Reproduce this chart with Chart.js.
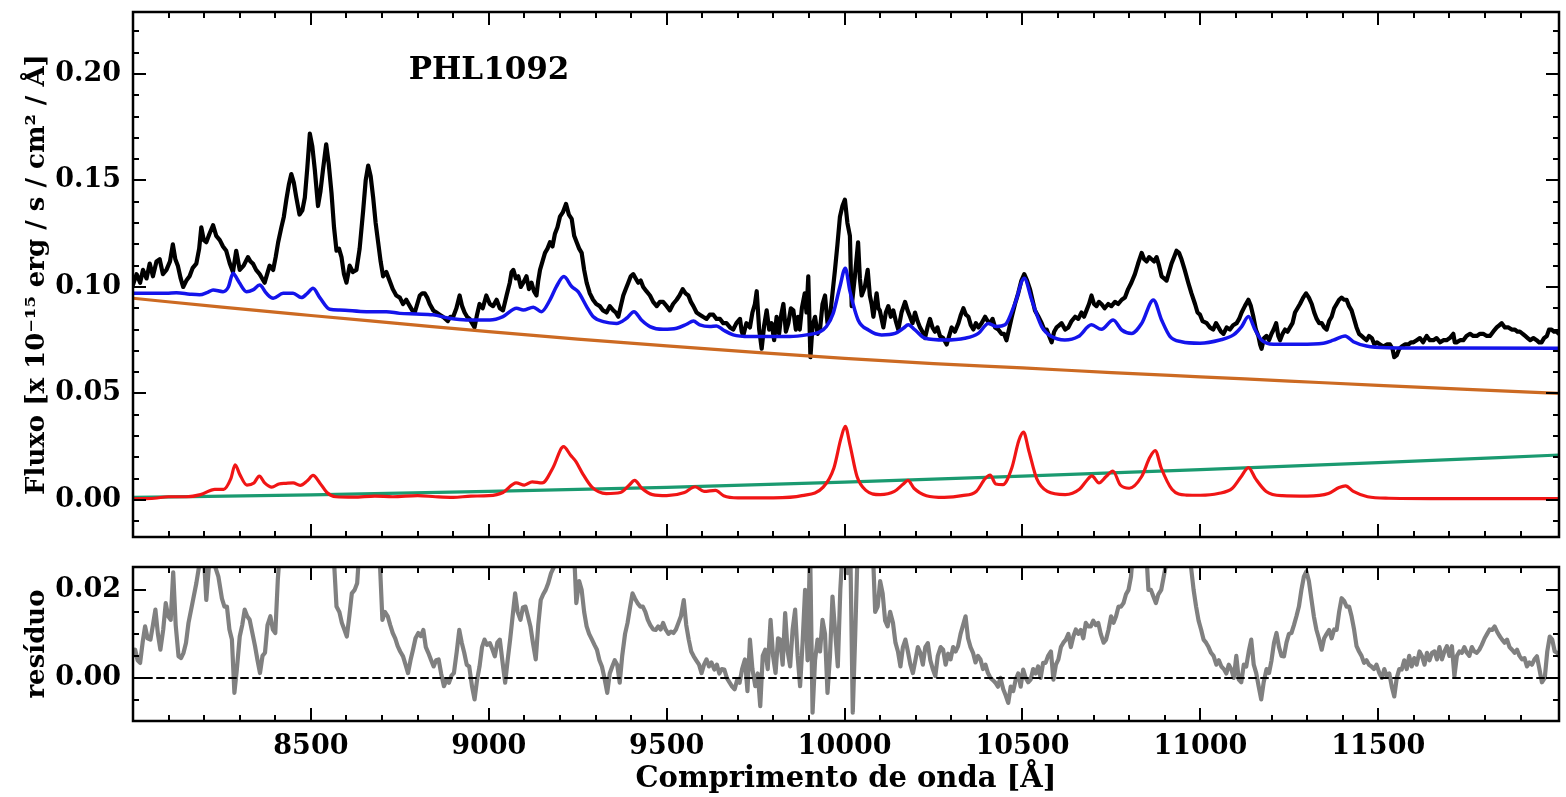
<!DOCTYPE html>
<html>
<head>
<meta charset="utf-8">
<script src="https://cdn.jsdelivr.net/npm/chart.js"></script>
<style>
  html, body { margin: 0; padding: 0; background: #fff; }
  #wrap { position: relative; width: 1566px; height: 797px; }
  canvas { position: absolute; left: 0; top: 0; }
</style>
</head>
<body>
<div id="wrap">
  <canvas id="fluxChart" width="1566" height="797"></canvas>
  <canvas id="residChart" width="1566" height="797"></canvas>
</div>
<script>
const FONT = 'DejaVu Serif';

// observed spectrum [wavelength (A), flux]
const observed = [
  [8000,0.101],[8010,0.106],[8020,0.102],[8028,0.108],[8038,0.104],[8047,0.111],[8056,0.105],[8066,0.112],[8075,0.113],[8084,0.106],
  [8094,0.108],[8104,0.112],[8112,0.120],[8119,0.113],[8126,0.110],[8134,0.104],[8141,0.100],[8150,0.103],[8159,0.105],[8168,0.109],
  [8178,0.111],[8186,0.118],[8192,0.128],[8199,0.122],[8206,0.121],[8215,0.125],[8225,0.129],[8234,0.124],[8244,0.122],[8253,0.119],
  [8262,0.117],[8272,0.111],[8281,0.107],[8290,0.117],[8300,0.108],[8311,0.110],[8323,0.114],[8330,0.112],[8337,0.111],[8346,0.108],
  [8356,0.106],[8363,0.104],[8370,0.102],[8377,0.106],[8384,0.110],[8394,0.108],[8401,0.114],[8408,0.121],[8417,0.128],[8424,0.133],
  [8431,0.141],[8438,0.148],[8445,0.153],[8452,0.149],[8459,0.142],[8468,0.134],[8476,0.136],[8483,0.142],[8490,0.156],[8497,0.172],
  [8504,0.166],[8511,0.155],[8520,0.138],[8527,0.145],[8534,0.155],[8543,0.167],[8550,0.158],[8558,0.144],[8565,0.128],[8572,0.117],
  [8579,0.118],[8586,0.114],[8593,0.106],[8600,0.102],[8609,0.110],[8618,0.107],[8628,0.108],[8637,0.118],[8647,0.136],[8654,0.150],
  [8661,0.157],[8668,0.152],[8675,0.142],[8682,0.130],[8689,0.121],[8696,0.112],[8703,0.105],[8712,0.107],[8721,0.103],[8730,0.099],
  [8740,0.096],[8750,0.095],[8759,0.092],[8768,0.094],[8778,0.091],[8785,0.089],[8792,0.088],[8799,0.092],[8806,0.096],[8813,0.097],
  [8820,0.097],[8827,0.095],[8834,0.092],[8844,0.089],[8853,0.088],[8862,0.087],[8871,0.086],[8878,0.085],[8885,0.084],[8892,0.086],
  [8900,0.086],[8909,0.090],[8918,0.096],[8925,0.091],[8932,0.088],[8939,0.086],[8946,0.085],[8953,0.083],[8960,0.081],[8967,0.087],
  [8974,0.092],[8983,0.090],[8993,0.096],[9003,0.092],[9012,0.091],[9022,0.094],[9031,0.090],[9040,0.089],[9050,0.096],[9059,0.102],
  [9064,0.107],[9069,0.108],[9076,0.104],[9083,0.105],[9090,0.100],[9097,0.102],[9106,0.105],[9113,0.099],[9120,0.102],[9127,0.098],
  [9134,0.096],[9139,0.103],[9144,0.108],[9151,0.112],[9158,0.116],[9165,0.118],[9172,0.121],[9179,0.119],[9186,0.125],[9193,0.128],
  [9200,0.133],[9208,0.135],[9217,0.139],[9225,0.134],[9233,0.132],[9240,0.124],[9247,0.121],[9254,0.118],[9261,0.116],[9268,0.108],
  [9275,0.102],[9284,0.097],[9293,0.094],[9302,0.092],[9312,0.091],[9321,0.089],[9331,0.088],[9340,0.091],[9350,0.089],[9357,0.088],
  [9364,0.086],[9371,0.091],[9378,0.096],[9385,0.099],[9392,0.102],[9399,0.105],[9406,0.106],[9413,0.104],[9420,0.102],[9427,0.103],
  [9434,0.100],[9443,0.098],[9453,0.096],[9462,0.093],[9472,0.091],[9481,0.093],[9490,0.093],[9500,0.091],[9509,0.089],[9518,0.092],
  [9528,0.094],[9536,0.096],[9545,0.099],[9553,0.097],[9561,0.096],[9568,0.093],[9575,0.091],[9584,0.088],[9593,0.087],[9602,0.086],
  [9612,0.085],[9621,0.087],[9631,0.087],[9640,0.085],[9650,0.085],[9659,0.083],[9668,0.083],[9678,0.081],[9687,0.080],[9696,0.083],
  [9706,0.085],[9711,0.079],[9715,0.077],[9724,0.083],[9734,0.081],[9741,0.088],[9748,0.092],[9753,0.098],[9760,0.080],[9767,0.071],
  [9774,0.082],[9781,0.089],[9788,0.080],[9795,0.083],[9802,0.075],[9809,0.086],[9816,0.078],[9822,0.087],[9828,0.092],[9835,0.079],
  [9842,0.083],[9849,0.090],[9856,0.089],[9863,0.080],[9869,0.086],[9874,0.080],[9880,0.090],[9888,0.097],[9893,0.088],[9898,0.105],
  [9904,0.067],[9910,0.082],[9917,0.086],[9924,0.078],[9931,0.080],[9938,0.092],[9945,0.096],[9952,0.083],[9959,0.086],[9966,0.097],
  [9973,0.108],[9980,0.120],[9987,0.133],[9994,0.138],[10001,0.141],[10008,0.130],[10015,0.124],[10020,0.091],[10029,0.105],[10038,0.121],
  [10043,0.104],[10048,0.096],[10057,0.100],[10065,0.108],[10071,0.096],[10076,0.092],[10081,0.086],[10090,0.097],[10095,0.090],[10099,0.089],
  [10104,0.085],[10109,0.081],[10116,0.088],[10123,0.091],[10130,0.086],[10137,0.089],[10144,0.084],[10151,0.080],[10160,0.088],[10170,0.093],
  [10177,0.089],[10184,0.086],[10191,0.083],[10198,0.088],[10205,0.084],[10212,0.081],[10219,0.079],[10226,0.076],[10233,0.081],[10240,0.085],
  [10247,0.081],[10254,0.079],[10261,0.081],[10268,0.077],[10277,0.076],[10287,0.073],[10294,0.077],[10301,0.081],[10310,0.079],[10320,0.083],
  [10327,0.087],[10334,0.090],[10341,0.087],[10348,0.086],[10355,0.082],[10362,0.080],[10369,0.083],[10376,0.081],[10385,0.083],[10395,0.086],
  [10402,0.084],[10409,0.083],[10416,0.085],[10423,0.081],[10432,0.080],[10441,0.078],[10448,0.078],[10455,0.075],[10462,0.080],[10470,0.086],
  [10479,0.092],[10488,0.097],[10497,0.103],[10505,0.106],[10513,0.103],[10521,0.099],[10528,0.094],[10535,0.089],[10545,0.086],[10554,0.083],
  [10561,0.080],[10568,0.080],[10575,0.077],[10582,0.074],[10589,0.079],[10596,0.081],[10603,0.082],[10610,0.083],[10620,0.080],[10629,0.081],
  [10638,0.084],[10648,0.086],[10657,0.085],[10666,0.088],[10673,0.086],[10680,0.089],[10687,0.092],[10694,0.096],[10701,0.092],[10708,0.091],
  [10715,0.093],[10722,0.092],[10731,0.090],[10741,0.092],[10750,0.091],[10760,0.093],[10769,0.092],[10779,0.094],[10788,0.095],[10797,0.099],
  [10806,0.102],[10816,0.106],[10825,0.111],[10835,0.116],[10842,0.113],[10849,0.112],[10856,0.114],[10863,0.113],[10870,0.112],[10877,0.114],
  [10884,0.110],[10891,0.105],[10898,0.104],[10905,0.103],[10912,0.107],[10919,0.111],[10926,0.114],[10933,0.117],[10940,0.116],[10947,0.113],
  [10956,0.108],[10966,0.102],[10975,0.097],[10985,0.092],[10992,0.088],[10999,0.087],[11006,0.084],[11018,0.083],[11027,0.081],[11036,0.080],
  [11044,0.083],[11051,0.081],[11058,0.079],[11065,0.078],[11074,0.081],[11083,0.080],[11092,0.082],[11102,0.083],[11109,0.085],[11116,0.088],
  [11125,0.091],[11135,0.094],[11142,0.091],[11149,0.086],[11156,0.080],[11163,0.077],[11168,0.073],[11172,0.071],[11179,0.076],[11186,0.077],
  [11193,0.075],[11200,0.078],[11206,0.080],[11213,0.083],[11219,0.077],[11224,0.075],[11231,0.078],[11238,0.080],[11245,0.079],[11252,0.081],
  [11259,0.083],[11266,0.088],[11273,0.090],[11280,0.092],[11289,0.095],[11297,0.097],[11305,0.095],[11313,0.092],[11320,0.088],[11327,0.085],
  [11334,0.083],[11341,0.083],[11348,0.081],[11355,0.080],[11362,0.084],[11369,0.086],[11376,0.090],[11383,0.092],[11390,0.094],[11397,0.095],
  [11404,0.094],[11411,0.094],[11418,0.091],[11425,0.089],[11432,0.085],[11439,0.081],[11446,0.078],[11453,0.077],[11460,0.076],[11467,0.075],
  [11474,0.077],[11482,0.076],[11489,0.073],[11496,0.074],[11505,0.073],[11514,0.072],[11524,0.073],[11533,0.073],[11540,0.071],[11545,0.067],
  [11552,0.068],[11559,0.071],[11566,0.072],[11575,0.073],[11585,0.073],[11592,0.074],[11599,0.074],[11608,0.075],[11617,0.076],[11626,0.074],
  [11636,0.077],[11645,0.075],[11655,0.075],[11664,0.076],[11674,0.074],[11683,0.075],[11692,0.075],[11701,0.076],[11711,0.078],[11715,0.074],
  [11720,0.074],[11730,0.075],[11739,0.075],[11748,0.077],[11758,0.078],[11767,0.077],[11777,0.077],[11786,0.078],[11795,0.078],[11805,0.077],
  [11814,0.077],[11823,0.079],[11833,0.081],[11840,0.082],[11847,0.083],[11856,0.081],[11866,0.081],[11875,0.080],[11884,0.080],[11891,0.079],
  [11898,0.079],[11906,0.078],[11913,0.077],[11920,0.076],[11927,0.075],[11936,0.076],[11945,0.075],[11952,0.074],[11959,0.074],[11966,0.076],
  [11974,0.077],[11980,0.080],[11987,0.080],[11994,0.079],[12001,0.079],[12008,0.078]
];

// total model (blue)
const model = [
  [8000,0.0970],[8094,0.0970],[8122,0.0973],[8160,0.0966],[8187,0.0963],[8210,0.0975],[8225,0.0986],[8253,0.0978],[8268,0.1000],[8281,0.1064],
  [8292,0.1040],[8300,0.1017],[8319,0.0978],[8337,0.0986],[8356,0.1009],[8375,0.0970],[8394,0.0947],[8422,0.0970],[8450,0.0970],[8473,0.0950],
  [8490,0.0970],[8506,0.0994],[8525,0.0950],[8553,0.0895],[8581,0.0892],[8656,0.0884],[8712,0.0884],[8750,0.0876],[8796,0.0873],[8843,0.0869],
  [8890,0.0853],[8937,0.0845],[9003,0.0845],[9040,0.0861],[9078,0.0900],[9097,0.0892],[9125,0.0905],[9148,0.0884],[9172,0.0939],[9190,0.1002],
  [9211,0.1049],[9233,0.1002],[9251,0.0978],[9275,0.0908],[9293,0.0861],[9322,0.0837],[9359,0.0829],[9387,0.0853],[9408,0.0884],[9429,0.0845],
  [9453,0.0814],[9490,0.0801],[9528,0.0806],[9556,0.0825],[9575,0.0840],[9593,0.0822],[9621,0.0814],[9640,0.0817],[9659,0.0798],[9687,0.0775],
  [9734,0.0767],[9800,0.0767],[9846,0.0767],[9893,0.0775],[9931,0.0790],[9949,0.0814],[9968,0.0876],[9987,0.1002],[10002,0.1088],[10015,0.0980],
  [10038,0.0845],[10067,0.0798],[10104,0.0775],[10142,0.0782],[10165,0.0806],[10179,0.0822],[10198,0.0798],[10226,0.0759],[10282,0.0751],[10338,0.0759],
  [10376,0.0782],[10404,0.0829],[10427,0.0814],[10451,0.0822],[10479,0.0923],[10505,0.1041],[10526,0.0939],[10554,0.0814],[10582,0.0767],[10619,0.0751],
  [10657,0.0767],[10694,0.0822],[10722,0.0801],[10755,0.0845],[10779,0.0798],[10807,0.0782],[10835,0.0829],[10868,0.0939],[10891,0.0845],[10915,0.0767],
  [10947,0.0743],[10999,0.0736],[11055,0.0751],[11093,0.0775],[11116,0.0814],[11135,0.0861],[11154,0.0798],[11172,0.0751],[11205,0.0731],[11280,0.0731],
  [11346,0.0736],[11374,0.0750],[11407,0.0770],[11430,0.0743],[11467,0.0723],[11524,0.0715],[11700,0.0713],[12010,0.0712]
];

// emission lines component (red)
const lines = [
  [8000,0.0005],[8060,0.0008],[8100,0.0015],[8150,0.0015],[8190,0.0025],[8230,0.0050],[8255,0.0050],[8275,0.0100],[8287,0.0165],[8300,0.0120],
  [8320,0.0070],[8340,0.0080],[8355,0.0112],[8370,0.0080],[8390,0.0060],[8410,0.0075],[8430,0.0078],[8450,0.0080],[8470,0.0068],[8490,0.0090],
  [8506,0.0115],[8525,0.0080],[8545,0.0035],[8570,0.0015],[8620,0.0013],[8680,0.0018],[8730,0.0015],[8800,0.0020],[8850,0.0015],[8900,0.0012],
  [8950,0.0018],[9000,0.0020],[9040,0.0035],[9077,0.0080],[9100,0.0070],[9122,0.0085],[9150,0.0080],[9180,0.0150],[9210,0.0250],[9230,0.0210],
  [9245,0.0180],[9265,0.0120],[9290,0.0060],[9330,0.0030],[9370,0.0035],[9395,0.0070],[9410,0.0092],[9430,0.0055],[9460,0.0025],[9500,0.0020],
  [9550,0.0035],[9580,0.0062],[9605,0.0040],[9637,0.0045],[9660,0.0020],[9700,0.0010],[9800,0.0010],[9880,0.0020],[9940,0.0060],[9970,0.0150],
  [9990,0.0290],[10002,0.0345],[10015,0.0260],[10035,0.0110],[10060,0.0045],[10100,0.0025],[10140,0.0040],[10165,0.0075],[10178,0.0092],[10195,0.0055],
  [10230,0.0020],[10280,0.0012],[10330,0.0020],[10370,0.0040],[10395,0.0100],[10409,0.0117],[10425,0.0075],[10445,0.0072],[10470,0.0150],[10490,0.0280],
  [10503,0.0318],[10518,0.0230],[10540,0.0100],[10570,0.0040],[10620,0.0025],[10660,0.0050],[10680,0.0090],[10695,0.0113],[10715,0.0080],[10735,0.0110],
  [10754,0.0136],[10775,0.0070],[10800,0.0055],[10835,0.0110],[10858,0.0200],[10873,0.0232],[10890,0.0150],[10920,0.0050],[10960,0.0023],[11000,0.0022],
  [11050,0.0030],[11090,0.0055],[11115,0.0110],[11135,0.0152],[11155,0.0100],[11185,0.0040],[11230,0.0020],[11300,0.0018],[11360,0.0030],[11390,0.0058],
  [11408,0.0066],[11430,0.0040],[11470,0.0015],[11530,0.0008],[11700,0.0006],[12008,0.0006]
];

// power-law continuum (orange) and second continuum (green)
const contWave = [8000, 8250, 8500, 8750, 9000, 9250, 9500, 9750, 10000, 10250, 10500, 10750, 11000, 11250, 11500, 11750, 12008];
const powerLaw = [0.0947, 0.0905, 0.0866, 0.0828, 0.0790, 0.0755, 0.0723, 0.0693, 0.0665, 0.0640, 0.0620, 0.0598, 0.0578, 0.0558, 0.0538, 0.0519, 0.0500];
const dustWave = [8000, 8500, 9000, 9500, 10000, 10500, 11000, 11500, 12008];
const dustCont = [0.0012, 0.0024, 0.0040, 0.0059, 0.0084, 0.0112, 0.0142, 0.0175, 0.0211];

// residual = observed - model
const residual = [
  [8000,0.0050],[8006,0.0064],[8013,0.0040],[8020,0.0034],[8027,0.0080],[8034,0.0117],[8041,0.0090],[8049,0.0087],[8056,0.0120],[8063,0.0155],
  [8070,0.0100],[8077,0.0064],[8085,0.0110],[8092,0.0170],[8099,0.0140],[8106,0.0132],[8113,0.0240],[8120,0.0120],[8128,0.0049],[8135,0.0045],
  [8142,0.0057],[8149,0.0080],[8156,0.0125],[8167,0.0170],[8178,0.0215],[8185,0.0250],[8192,0.0300],[8199,0.0280],[8206,0.0177],[8215,0.0270],
  [8228,0.0260],[8240,0.0230],[8250,0.0180],[8257,0.0162],[8264,0.0162],[8271,0.0110],[8278,0.0087],[8285,-0.0034],[8292,0.0020],[8300,0.0094],
  [8307,0.0120],[8314,0.0155],[8321,0.0140],[8328,0.0132],[8336,0.0100],[8343,0.0072],[8350,0.0040],[8357,0.0011],[8364,0.0050],[8371,0.0057],
  [8378,0.0120],[8386,0.0140],[8393,0.0110],[8400,0.0102],[8407,0.0223],[8414,0.0300],[8445,0.0580],[8468,0.0400],[8497,0.0750],[8520,0.0400],
  [8543,0.0700],[8560,0.0400],[8566,0.0250],[8572,0.0162],[8580,0.0150],[8587,0.0125],[8594,0.0110],[8601,0.0094],[8608,0.0140],[8615,0.0192],
  [8623,0.0200],[8630,0.0215],[8637,0.0300],[8661,0.0680],[8690,0.0300],[8694,0.0260],[8701,0.0132],[8708,0.0150],[8716,0.0140],[8723,0.0120],
  [8730,0.0102],[8737,0.0090],[8744,0.0072],[8751,0.0060],[8759,0.0049],[8766,0.0030],[8773,0.0011],[8780,0.0040],[8787,0.0064],[8794,0.0090],
  [8802,0.0102],[8809,0.0095],[8816,0.0109],[8823,0.0070],[8830,0.0057],[8838,0.0040],[8845,0.0026],[8852,0.0040],[8859,0.0042],[8866,0.0010],
  [8874,-0.0019],[8881,-0.0005],[8888,-0.0011],[8895,0.0005],[8902,0.0011],[8910,0.0060],[8917,0.0109],[8924,0.0080],[8931,0.0057],[8938,0.0030],
  [8945,0.0026],[8953,-0.0020],[8960,-0.0049],[8967,-0.0005],[8974,0.0026],[8981,0.0070],[8988,0.0087],[8995,0.0075],[9003,0.0079],[9010,0.0065],
  [9017,0.0049],[9024,0.0080],[9031,0.0087],[9038,0.0040],[9046,-0.0011],[9053,0.0040],[9060,0.0087],[9067,0.0140],[9074,0.0192],[9081,0.0150],
  [9089,0.0132],[9096,0.0160],[9103,0.0162],[9110,0.0140],[9117,0.0117],[9124,0.0080],[9132,0.0042],[9139,0.0120],[9146,0.0177],[9153,0.0190],
  [9160,0.0200],[9167,0.0215],[9175,0.0238],[9182,0.0250],[9189,0.0300],[9215,0.0350],[9239,0.0300],[9246,0.0170],[9254,0.0220],[9261,0.0200],
  [9268,0.0150],[9275,0.0117],[9282,0.0100],[9290,0.0087],[9297,0.0075],[9304,0.0064],[9311,0.0040],[9318,0.0026],[9325,0.0000],[9333,-0.0034],
  [9340,0.0010],[9347,0.0026],[9354,0.0040],[9361,0.0030],[9368,-0.0011],[9375,0.0050],[9383,0.0100],[9390,0.0125],[9397,0.0160],[9404,0.0192],
  [9411,0.0180],[9418,0.0170],[9426,0.0162],[9433,0.0162],[9440,0.0150],[9447,0.0132],[9454,0.0120],[9462,0.0110],[9469,0.0109],[9476,0.0117],
  [9483,0.0110],[9490,0.0125],[9497,0.0110],[9505,0.0100],[9512,0.0105],[9519,0.0102],[9526,0.0110],[9533,0.0125],[9540,0.0140],[9548,0.0177],
  [9555,0.0120],[9562,0.0087],[9569,0.0060],[9576,0.0049],[9583,0.0040],[9591,0.0030],[9598,0.0011],[9605,0.0030],[9612,0.0042],[9619,0.0026],
  [9626,0.0035],[9634,0.0019],[9641,0.0030],[9648,0.0010],[9655,0.0020],[9662,0.0019],[9669,0.0000],[9677,-0.0011],[9684,-0.0020],[9691,-0.0026],
  [9698,-0.0005],[9705,-0.0011],[9712,0.0020],[9720,0.0042],[9727,-0.0030],[9734,0.0087],[9741,0.0020],[9749,-0.0019],[9756,0.0010],[9763,-0.0064],
  [9770,0.0050],[9777,0.0064],[9784,0.0020],[9792,0.0132],[9799,0.0050],[9806,0.0011],[9813,0.0090],[9819,0.0087],[9826,0.0030],[9833,0.0147],
  [9840,0.0060],[9847,0.0026],[9854,0.0110],[9861,0.0155],[9868,0.0050],[9875,-0.0019],[9882,0.0080],[9889,0.0200],[9896,0.0040],[9903,0.0300],
  [9910,-0.0079],[9917,0.0040],[9924,0.0087],[9931,0.0060],[9938,0.0132],[9945,0.0100],[9952,-0.0034],[9959,0.0050],[9966,0.0185],[9974,0.0100],
  [9981,0.0026],[9988,0.0200],[9995,0.0300],[10002,0.0400],[10009,0.0238],[10016,0.0300],[10023,-0.0079],[10030,0.0100],[10037,0.0300],[10058,0.0350],
  [10079,0.0300],[10086,0.0150],[10093,0.0162],[10100,0.0220],[10107,0.0192],[10114,0.0130],[10121,0.0117],[10128,0.0150],[10136,0.0125],[10143,0.0080],
  [10150,0.0060],[10157,0.0026],[10164,0.0070],[10171,0.0087],[10178,0.0060],[10185,0.0030],[10192,0.0011],[10199,0.0040],[10206,0.0070],[10213,0.0057],
  [10220,0.0030],[10227,0.0070],[10234,0.0079],[10241,0.0040],[10248,0.0020],[10255,0.0004],[10262,0.0050],[10270,0.0070],[10277,0.0064],[10284,0.0030],
  [10291,0.0055],[10298,0.0042],[10305,0.0070],[10312,0.0060],[10319,0.0072],[10326,0.0100],[10333,0.0120],[10340,0.0140],[10347,0.0090],[10354,0.0070],
  [10361,0.0057],[10368,0.0035],[10375,0.0050],[10382,0.0042],[10389,0.0020],[10396,0.0030],[10403,0.0011],[10410,0.0000],[10417,-0.0005],[10424,-0.0011],
  [10431,-0.0020],[10438,0.0000],[10446,-0.0026],[10453,-0.0040],[10460,-0.0057],[10467,-0.0020],[10474,-0.0030],[10481,-0.0004],[10488,0.0010],[10495,-0.0020],
  [10502,0.0019],[10509,0.0000],[10516,-0.0010],[10523,-0.0004],[10530,0.0020],[10537,0.0010],[10544,0.0026],[10551,0.0000],[10558,0.0034],[10565,0.0034],
  [10572,0.0050],[10580,0.0060],[10587,-0.0004],[10594,0.0030],[10601,0.0042],[10608,0.0070],[10615,0.0080],[10622,0.0087],[10629,0.0100],[10636,0.0070],
  [10643,0.0094],[10650,0.0110],[10657,0.0100],[10664,0.0109],[10671,0.0090],[10678,0.0125],[10685,0.0117],[10692,0.0117],[10699,0.0130],[10706,0.0120],
  [10713,0.0125],[10720,0.0100],[10728,0.0080],[10735,0.0087],[10742,0.0110],[10749,0.0140],[10756,0.0125],[10763,0.0140],[10770,0.0162],[10777,0.0162],
  [10784,0.0170],[10791,0.0190],[10798,0.0200],[10805,0.0230],[10812,0.0300],[10830,0.0400],[10847,0.0300],[10854,0.0200],[10861,0.0200],[10868,0.0185],
  [10875,0.0170],[10882,0.0190],[10890,0.0200],[10897,0.0230],[10904,0.0260],[10911,0.0300],[10940,0.0450],[10967,0.0300],[10974,0.0250],[10981,0.0200],
  [10988,0.0162],[10995,0.0130],[11002,0.0110],[11009,0.0087],[11016,0.0080],[11023,0.0070],[11030,0.0057],[11037,0.0050],[11045,0.0030],[11052,0.0040],
  [11059,0.0026],[11066,0.0020],[11073,0.0010],[11080,0.0030],[11087,0.0019],[11094,0.0000],[11101,0.0050],[11108,-0.0004],[11115,-0.0010],[11122,0.0030],
  [11129,0.0026],[11136,0.0060],[11143,0.0087],[11150,0.0030],[11157,0.0011],[11164,-0.0020],[11171,-0.0049],[11178,-0.0010],[11186,0.0020],[11193,0.0011],
  [11200,0.0040],[11207,0.0080],[11214,0.0102],[11221,0.0070],[11228,0.0050],[11235,0.0049],[11242,0.0080],[11249,0.0100],[11256,0.0102],[11263,0.0120],
  [11270,0.0140],[11277,0.0162],[11284,0.0200],[11291,0.0230],[11298,0.0242],[11305,0.0220],[11312,0.0180],[11319,0.0140],[11326,0.0110],[11333,0.0090],
  [11341,0.0064],[11348,0.0090],[11355,0.0100],[11362,0.0109],[11369,0.0090],[11376,0.0110],[11383,0.0109],[11390,0.0150],[11397,0.0181],[11404,0.0175],
  [11411,0.0162],[11418,0.0162],[11425,0.0140],[11432,0.0110],[11439,0.0072],[11446,0.0060],[11453,0.0050],[11460,0.0034],[11467,0.0040],[11474,0.0030],
  [11481,0.0026],[11488,0.0020],[11495,0.0030],[11503,0.0011],[11510,0.0000],[11517,0.0020],[11524,0.0004],[11531,0.0010],[11538,-0.0020],[11545,-0.0042],
  [11552,0.0000],[11559,0.0020],[11566,0.0019],[11573,0.0040],[11580,0.0020],[11587,0.0050],[11594,0.0026],[11601,0.0045],[11608,0.0030],[11616,0.0060],
  [11623,0.0049],[11630,0.0030],[11637,0.0057],[11644,0.0040],[11651,0.0057],[11658,0.0060],[11665,0.0042],[11672,0.0070],[11679,0.0042],[11686,0.0060],
  [11693,0.0072],[11700,0.0050],[11707,0.0072],[11714,0.0004],[11721,0.0050],[11728,0.0060],[11735,0.0057],[11742,0.0070],[11749,0.0057],[11756,0.0050],
  [11763,0.0070],[11770,0.0060],[11777,0.0057],[11784,0.0064],[11791,0.0075],[11799,0.0090],[11806,0.0100],[11813,0.0110],[11820,0.0109],[11827,0.0117],
  [11834,0.0105],[11841,0.0095],[11848,0.0087],[11855,0.0080],[11862,0.0087],[11869,0.0070],[11876,0.0064],[11883,0.0057],[11890,0.0064],[11897,0.0050],
  [11904,0.0042],[11911,0.0045],[11918,0.0026],[11925,0.0035],[11932,0.0030],[11939,0.0042],[11946,0.0049],[11953,0.0020],[11960,-0.0010],[11968,0.0000],
  [11975,0.0060],[11982,0.0094],[11989,0.0087],[11996,0.0060],[12003,0.0057],[12008,0.0050]
];

// axis ticks
const waveMajor = [8500, 9000, 9500, 10000, 10500, 11000, 11500];
const waveMinor = [8100, 8200, 8300, 8400, 8600, 8700, 8800, 8900, 9100, 9200, 9300, 9400, 9600, 9700, 9800, 9900,
  10100, 10200, 10300, 10400, 10600, 10700, 10800, 10900, 11100, 11200, 11300, 11400, 11600, 11700, 11800, 11900];
const fluxMajor = [0.00, 0.05, 0.10, 0.15, 0.20];
const fluxMinor = [-0.01, 0.01, 0.02, 0.03, 0.04, 0.06, 0.07, 0.08, 0.09, 0.11, 0.12, 0.13, 0.14, 0.16, 0.17, 0.18, 0.19, 0.21, 0.22];
const residMajor = [0.00, 0.02];
const residMinor = [-0.005, 0.005, 0.01, 0.015];

const toXY = pairs => pairs.map(([x, y]) => ({ x, y }));
const zip = (xs, ys) => xs.map((x, i) => ({ x, y: ys[i] }));

// inward ticks on all four sides + frame, and an optional label in data coords
const frameTicks = {
  id: 'frameTicks',
  afterDatasetsDraw(chart, args, opts) {
    const { ctx, chartArea: a } = chart;
    const xs = chart.scales.x, ys = chart.scales.y;
    ctx.save();
    ctx.strokeStyle = '#000';
    ctx.lineWidth = 2;
    ctx.beginPath();
    const xTick = (v, len) => {
      const px = Math.round(xs.getPixelForValue(v));
      ctx.moveTo(px, a.bottom); ctx.lineTo(px, a.bottom - len);
      ctx.moveTo(px, a.top); ctx.lineTo(px, a.top + len);
    };
    const yTick = (v, len) => {
      const py = Math.round(ys.getPixelForValue(v));
      ctx.moveTo(a.left, py); ctx.lineTo(a.left + len, py);
      ctx.moveTo(a.right, py); ctx.lineTo(a.right - len, py);
    };
    opts.xMinor.forEach(v => xTick(v, 6));
    opts.xMajor.forEach(v => xTick(v, 13));
    opts.yMinor.forEach(v => yTick(v, 6));
    opts.yMajor.forEach(v => yTick(v, 13));
    ctx.stroke();
    ctx.lineWidth = 2.5;
    ctx.strokeRect(a.left, a.top, a.right - a.left, a.bottom - a.top);
    if (opts.label) {
      ctx.fillStyle = '#000';
      ctx.font = 'bold 31px "' + FONT + '"';
      ctx.textAlign = 'left';
      ctx.textBaseline = 'middle';
      ctx.fillText(opts.label.text, xs.getPixelForValue(opts.label.x), ys.getPixelForValue(opts.label.y));
    }
    ctx.restore();
  }
};

const tickFont = { family: FONT, size: 27, weight: 'bold' };
// keep the plot box exactly where the layout padding puts it
const fixWidth = s => { s.width = 133; s.paddingTop = 0; s.paddingBottom = 0; };

new Chart(document.getElementById('fluxChart'), {
  type: 'line',
  data: {
    datasets: [
      { label: 'modelo', data: toXY(model), borderColor: '#1414eb', borderWidth: 3.5, cubicInterpolationMode: 'monotone', order: 1 },
      { label: 'linhas', data: toXY(lines), borderColor: '#f01515', borderWidth: 3.2, cubicInterpolationMode: 'monotone', order: 2 },
      { label: 'componente', data: zip(dustWave, dustCont), borderColor: '#1a9a70', borderWidth: 3.2, cubicInterpolationMode: 'monotone', order: 3 },
      { label: 'lei de potência', data: zip(contWave, powerLaw), borderColor: '#cc6a22', borderWidth: 3.2, cubicInterpolationMode: 'monotone', order: 4 },
      { label: 'observado', data: toXY(observed), borderColor: '#000', borderWidth: 4.2, order: 5 }
    ]
  },
  options: {
    responsive: false,
    animation: false,
    devicePixelRatio: 1,
    layout: { padding: { left: 0, right: 7, top: 12, bottom: 260 } },
    elements: { point: { radius: 0 }, line: { borderJoinStyle: 'round', borderCapStyle: 'round' } },
    plugins: {
      legend: { display: false },
      tooltip: { enabled: false },
      frameTicks: { xMajor: waveMajor, xMinor: waveMinor, yMajor: fluxMajor, yMinor: fluxMinor,
        label: { text: 'PHL1092', x: 8775, y: 0.2014 } }
    },
    scales: {
      x: { type: 'linear', min: 8000, max: 12008, display: false },
      y: {
        min: -0.0174, max: 0.2291,
        afterFit: fixWidth,
        afterBuildTicks: s => { s.ticks = fluxMajor.map(value => ({ value })); },
        grid: { display: false, drawTicks: false },
        border: { display: false },
        ticks: { padding: 12, color: '#000', font: tickFont, callback: v => v.toFixed(2) },
        title: { display: true, text: 'Fluxo [x 10⁻¹⁵ erg / s / cm² / Å]', color: '#000',
          font: { family: FONT, size: 26, weight: 'bold' }, padding: { top: 22, bottom: 0 } }
      }
    }
  },
  plugins: [frameTicks]
});

new Chart(document.getElementById('residChart'), {
  type: 'line',
  data: {
    datasets: [
      { label: 'zero', data: [{ x: 8000, y: 0 }, { x: 12008, y: 0 }], borderColor: '#000', borderWidth: 2, borderDash: [7, 5], order: 1 },
      { label: 'resíduo', data: toXY(residual), borderColor: '#808080', borderWidth: 4.2, clip: 0, order: 2 }
    ]
  },
  options: {
    responsive: false,
    animation: false,
    devicePixelRatio: 1,
    layout: { padding: { left: 0, right: 7, top: 567, bottom: 0 } },
    elements: { point: { radius: 0 }, line: { borderJoinStyle: 'round', borderCapStyle: 'round' } },
    plugins: {
      legend: { display: false },
      tooltip: { enabled: false },
      frameTicks: { xMajor: waveMajor, xMinor: waveMinor, yMajor: residMajor, yMinor: residMinor }
    },
    scales: {
      x: {
        type: 'linear', min: 8000, max: 12008,
        afterFit: s => { s.height = 76; s.paddingLeft = 0; s.paddingRight = 0; },
        afterBuildTicks: s => { s.ticks = waveMajor.map(value => ({ value })); },
        grid: { display: false, drawTicks: false },
        border: { display: false },
        ticks: { padding: 10, color: '#000', font: tickFont, maxRotation: 0, autoSkip: false, callback: v => String(v) },
        title: { display: true, text: 'Comprimento de onda [Å]', color: '#000',
          font: { family: FONT, size: 29, weight: 'bold' }, padding: { top: 0, bottom: 0 } }
      },
      y: {
        min: -0.0098, max: 0.0252,
        afterFit: fixWidth,
        afterBuildTicks: s => { s.ticks = residMajor.map(value => ({ value })); },
        grid: { display: false, drawTicks: false },
        border: { display: false },
        ticks: { padding: 12, color: '#000', font: tickFont, callback: v => v.toFixed(2) },
        title: { display: true, text: 'resíduo', color: '#000',
          font: { family: FONT, size: 26, weight: 'bold' }, padding: { top: 22, bottom: 0 } }
      }
    }
  },
  plugins: [frameTicks]
});
</script>
</body>
</html>
